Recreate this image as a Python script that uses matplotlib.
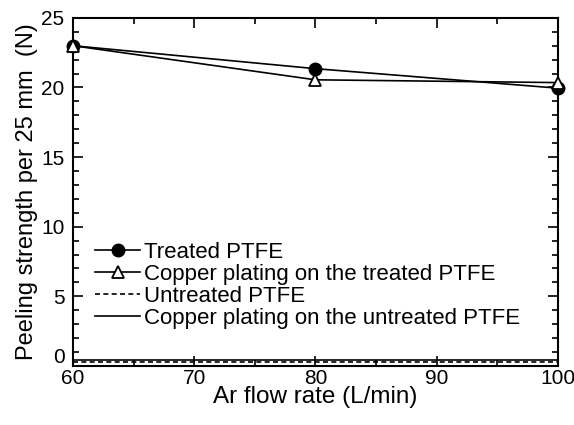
import matplotlib
matplotlib.use('Agg')
import matplotlib.pyplot as plt
from matplotlib.ticker import MultipleLocator, FuncFormatter

plt.rcParams['font.family'] = ['Liberation Sans', 'DejaVu Sans']

# Ar flow rate (L/min)
flow = [60, 80, 100]
treated = [23.0, 21.35, 19.95]
copper_treated = [23.0, 20.55, 20.35]
# untreated samples, constant over the range
untreated = [0.25, 0.25, 0.25]
copper_untreated = [0.45, 0.45, 0.45]

fig = plt.figure(figsize=(5.74, 4.25), dpi=100)
ax = fig.add_axes([0.127, 0.139, 0.845, 0.819])

ax.plot(flow, treated, color='black', lw=1.2, marker='o', ms=9,
        label='Treated PTFE', clip_on=False, zorder=4)
ax.plot(flow, copper_treated, color='black', lw=1.2, marker='^', ms=9,
        mfc='white', mew=1.3, label='Copper plating on the treated PTFE',
        clip_on=False, zorder=5)
ax.plot(flow, untreated, color='black', lw=1.2, ls=(0, (3, 2)),
        label='Untreated PTFE')
ax.plot(flow, copper_untreated, color='black', lw=1.2,
        label='Copper plating on the untreated PTFE')

ax.set_xlim(60, 100)
ax.set_ylim(0, 25)
ax.xaxis.set_major_locator(MultipleLocator(10))
ax.xaxis.set_minor_locator(MultipleLocator(5))
ax.yaxis.set_major_locator(MultipleLocator(5))
ax.yaxis.set_minor_locator(MultipleLocator(1))
# the "0" label is drawn separately, a bit above the corner
ax.yaxis.set_major_formatter(FuncFormatter(lambda v, p: '' if v == 0 else '%d' % v))
ax.tick_params(which='both', direction='in', top=True, right=True,
               labelsize=15, width=1.2)
ax.tick_params(which='major', length=7)
ax.tick_params(axis='y', which='major', pad=6)
ax.tick_params(axis='x', which='major', pad=2)
ax.tick_params(which='minor', length=4)
for s in ax.spines.values():
    s.set_linewidth(1.5)

ax.annotate('0', xy=(0, 0), xycoords=('axes fraction', 'data'),
            xytext=(-6, 6), textcoords='offset points',
            ha='right', va='center', fontsize=15)

ax.set_xlabel('Ar flow rate (L/min)', fontsize=17.5, labelpad=-1)
ax.set_ylabel('Peeling strength per 25 mm  (N)', fontsize=17, labelpad=2)

ax.legend(loc='lower left', bbox_to_anchor=(0.028, 0.08), frameon=False,
          fontsize=16, handlelength=2.0, handletextpad=0.2,
          labelspacing=0.05, borderaxespad=0)

fig.savefig('out.png', dpi=100)
